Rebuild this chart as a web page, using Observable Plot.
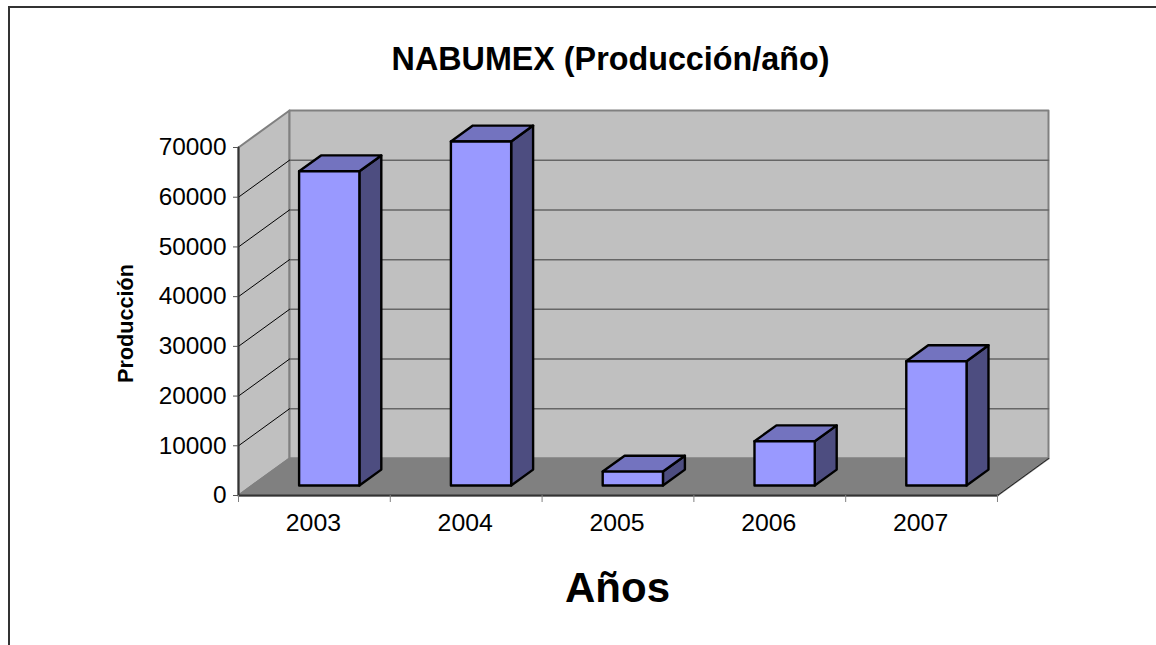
<!DOCTYPE html>
<html>
<head>
<meta charset="utf-8">
<script src="https://cdn.jsdelivr.net/npm/d3@7"></script>
<script src="https://cdn.jsdelivr.net/npm/@observablehq/plot@0.6"></script>
<style>
html,body{margin:0;padding:0;background:#fff;overflow:hidden;width:1156px;height:645px}
#frame{position:absolute;left:8px;top:6px;right:0;bottom:0;border-top:2px solid #333;border-left:2px solid #333}
#chart{position:absolute;left:0;top:0}
svg{background:transparent!important}
</style>
</head>
<body>
<div id="frame"></div>
<div id="chart"></div>
<script>
const years = ["2003", "2004", "2005", "2006", "2007"];
const produccion = [63200, 69200, 2800, 8900, 25000];
const yTicks = [0, 10000, 20000, 30000, 40000, 50000, 60000, 70000];
const title = "NABUMEX (Producción/año)";
const xTitle = "Años";
const yTitle = "Producción";

// oblique depth of the 3D box, in data units of x (categories) and y (production)
const DX = 0.3361, DY = 7443, YMAX = 70000;
const n = years.length;
const P = (u, v, d = 0) => ({x: u + d * DX, y: v + d * DY});
const face = (id, fill, stroke, pts) =>
  [...pts, pts[0]].map(p => ({...p, id, fill, stroke}));

const walls = [
  face("side", "#C0C0C0", "#808080", [P(0, 0), P(0, 0, 1), P(0, YMAX, 1), P(0, YMAX)]),
  face("back", "#C0C0C0", "#808080", [P(0, 0, 1), P(n, 0, 1), P(n, YMAX, 1), P(0, YMAX, 1)]),
  face("floor", "#808080", "#808080", [P(0, 0), P(n, 0), P(n, 0, 1), P(0, 0, 1)])
].flat();

const sideGrid = yTicks.slice(1, -1).flatMap(v =>
  [P(0, v), P(0, v, 1)].map(p => ({...p, v})));
const backGrid = yTicks.slice(1, -1).flatMap(v =>
  [P(0, v, 1), P(n, v, 1)].map(p => ({...p, v})));

const D0 = 0.27, D1 = 0.70, BW = 0.397;
const bars = years.flatMap((yr, i) => {
  const a = i + 0.507 - BW / 2, b = a + BW, v = produccion[i];
  return [
    face(yr + "side", "#4D4D80", "#000", [P(b, 0, D0), P(b, 0, D1), P(b, v, D1), P(b, v, D0)]),
    face(yr + "top", "#7373BF", "#000", [P(a, v, D0), P(b, v, D0), P(b, v, D1), P(a, v, D1)]),
    face(yr + "front", "#9999FF", "#000", [P(a, 0, D0), P(b, 0, D0), P(b, v, D0), P(a, v, D0)])
  ].flat();
});

const plot = Plot.plot({
  width: 1156,
  height: 645,
  marginLeft: 238,
  marginRight: 108,
  marginTop: 110,
  marginBottom: 150,
  style: {fontFamily: "'Liberation Sans', Arial, sans-serif", background: "transparent", overflow: "visible"},
  x: {domain: [0, n + DX], axis: null},
  y: {domain: [0, YMAX + DY], axis: null},
  marks: [
    Plot.line(walls, {x: "x", y: "y", z: "id", fill: "fill", stroke: "stroke", strokeWidth: 2}),
    Plot.line(backGrid, {x: "x", y: "y", z: "v", stroke: "#666", strokeWidth: 1.5}),
    Plot.line(sideGrid, {x: "x", y: "y", z: "v", stroke: "#000", strokeWidth: 1}),
    // front-right floor edge
    Plot.line([P(n, 0), P(n, 0, 1)], {x: "x", y: "y", stroke: "#222", strokeWidth: 1}),
    Plot.line(bars, {x: "x", y: "y", z: "id", fill: "fill", stroke: "stroke", strokeWidth: 2.4, strokeLinejoin: "round"}),
    // main axis lines
    Plot.line([P(0, YMAX), P(0, 0), P(n, 0)], {x: "x", y: "y", stroke: "#333", strokeWidth: 2}),
    Plot.axisY({ticks: yTicks, tickFormat: d => String(d), tickSize: 5, tickPadding: 7, fontSize: 24.4, stroke: "#555", color: "#000", label: null}),
    Plot.axisX({ticks: d3.range(n + 1), tickFormat: () => "", tickSize: 7, stroke: "#808080", label: null}),
    Plot.axisX({ticks: years.map((_, i) => i + 0.5), tickFormat: d => years[d - 0.5], tickSize: 0, tickPadding: 18, dx: -1, fontSize: 24.8, color: "#000", label: null}),
    Plot.text([title], {frameAnchor: "top", dx: -33, dy: -63, fontSize: 32.3, fontWeight: "bold", fill: "#000"}),
    Plot.text([xTitle], {frameAnchor: "bottom", dx: -26, dy: 106, fontSize: 42, fontWeight: "bold", fill: "#000"}),
    Plot.text([yTitle], {frameAnchor: "left", textAnchor: "middle", rotate: -90, dx: -112, dy: 20.5, fontSize: 21.6, fontWeight: "bold", fill: "#000"})
  ]
});
document.getElementById("chart").append(plot);
</script>
</body>
</html>
